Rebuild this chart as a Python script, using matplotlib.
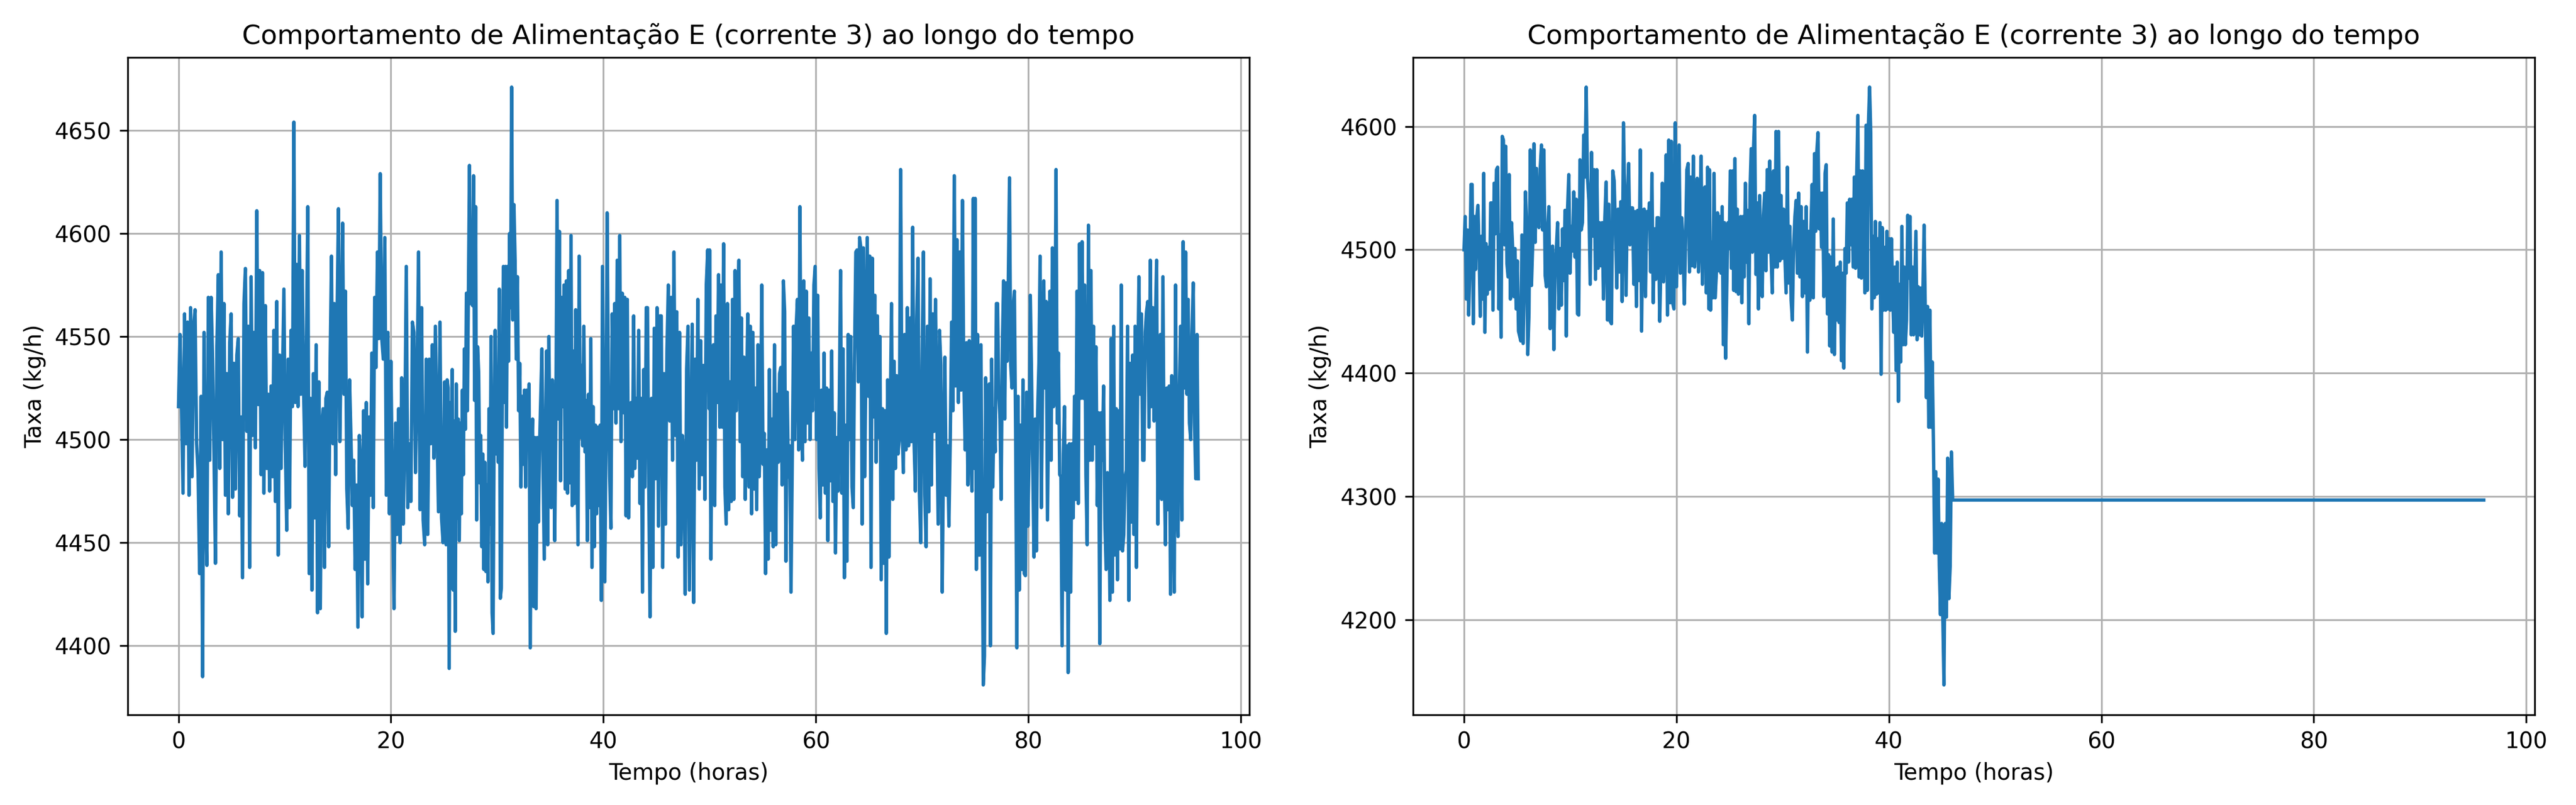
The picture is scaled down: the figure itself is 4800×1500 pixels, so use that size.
import numpy as np
import matplotlib
matplotlib.use("Agg")
import matplotlib.pyplot as plt

# --- left panel: normal operation in four blocks ---
taxa_a1 = [4516, 4551, 4516, 4474, 4561, 4498, 4557, 4473, 4564, 4482, 4555, 4563, 4498, 4484,
           4435, 4521, 4385, 4552, 4470, 4439, 4569, 4490, 4569, 4539, 4491, 4440, 4545, 4580,
           4486, 4591, 4500, 4566, 4473, 4532, 4464, 4547, 4561, 4472, 4537, 4476, 4541, 4549,
           4463, 4511, 4433, 4566, 4583, 4504, 4555, 4438, 4579, 4502, 4552, 4496, 4611, 4517,
           4582, 4483, 4581, 4474, 4565, 4486, 4522, 4475, 4526, 4482, 4553, 4470, 4567, 4444,
           4541, 4486, 4529, 4573, 4498, 4456, 4539, 4467, 4553, 4516, 4654, 4518, 4585, 4516,
           4599, 4522, 4582, 4524, 4487, 4544, 4613, 4435, 4520, 4427, 4532, 4462, 4546, 4416,
           4528, 4418, 4507, 4515, 4438, 4520, 4523, 4448, 4536, 4589, 4498, 4566, 4483, 4558,
           4612, 4499, 4545, 4605, 4522, 4572, 4476, 4457, 4529, 4501, 4468, 4490, 4437, 4478,
           4409, 4502, 4485, 4414, 4514, 4442, 4518, 4430, 4511, 4473, 4542, 4467, 4569, 4535,
           4591, 4549, 4629, 4549, 4539, 4598, 4473, 4552, 4464, 4538, 4472, 4418, 4508, 4454,
           4515, 4450, 4530, 4459, 4499, 4584, 4467, 4498, 4470, 4557, 4552, 4484, 4523, 4591,
           4466, 4564, 4461, 4449, 4539, 4454, 4539, 4498, 4546, 4491, 4555, 4510, 4465, 4557,
           4462, 4450, 4528]
taxa_a2 = [4482, 4449, 4529, 4525, 4389, 4518, 4428, 4534, 4427, 4509, 4407, 4527, 4462, 4510,
           4451, 4508, 4464, 4524, 4483, 4544, 4505, 4571, 4514, 4574, 4633, 4566, 4589, 4565,
           4628, 4519, 4613, 4461, 4545, 4532, 4479, 4502, 4448, 4493, 4437, 4489, 4436, 4478,
           4431, 4515, 4459, 4550, 4416, 4406, 4505, 4553, 4493, 4533, 4489, 4573, 4423, 4428,
           4528, 4584, 4518, 4584, 4506, 4584, 4538, 4600, 4564, 4671, 4558, 4614, 4587, 4539,
           4579, 4514, 4537, 4477, 4521, 4488, 4524, 4477, 4524, 4499, 4527, 4399, 4489, 4510,
           4419, 4501, 4418, 4501, 4460, 4497, 4520, 4544, 4485, 4442, 4497, 4543, 4449, 4550,
           4488, 4467, 4529, 4510, 4451, 4511, 4616, 4510, 4601, 4480, 4569, 4516, 4575, 4476,
           4577, 4474, 4582, 4479, 4599, 4468, 4543, 4469, 4563, 4499, 4449, 4589, 4501, 4536,
           4497, 4555, 4494, 4519, 4451, 4522, 4467, 4549, 4438, 4516, 4448, 4507, 4464, 4506,
           4468, 4507, 4422, 4584, 4507, 4431, 4497, 4610, 4526, 4482, 4457, 4561, 4515, 4566,
           4508, 4587, 4515, 4599, 4499, 4571, 4513, 4569, 4463, 4568, 4462, 4513, 4518, 4482,
           4560, 4486, 4520, 4491, 4553, 4469, 4520, 4426, 4534, 4477, 4564, 4564, 4475, 4414,
           4520, 4438, 4554, 4481, 4564, 4458, 4560, 4560, 4438, 4532, 4459, 4543, 4575, 4509,
           4569, 4490, 4591, 4502, 4562, 4443, 4552, 4449, 4502, 4492, 4425, 4534, 4555, 4427,
           4491, 4556, 4421, 4539, 4490, 4568, 4476, 4548, 4483, 4536, 4471, 4575, 4592, 4515]
taxa_a3 = [4592, 4442, 4526, 4546, 4468, 4560, 4518, 4580, 4506, 4575, 4506, 4595, 4477, 4459,
           4566, 4466, 4528, 4470, 4568, 4471, 4582, 4514, 4560, 4587, 4499, 4559, 4482, 4540,
           4471, 4520, 4561, 4477, 4555, 4464, 4552, 4476, 4525, 4466, 4546, 4482, 4504, 4575,
           4488, 4503, 4435, 4495, 4442, 4534, 4456, 4510, 4448, 4546, 4449, 4522, 4489, 4532,
           4535, 4478, 4577, 4562, 4441, 4523, 4482, 4497, 4426, 4491, 4555, 4500, 4554, 4568,
           4495, 4613, 4512, 4490, 4577, 4499, 4572, 4508, 4559, 4500, 4542, 4514, 4575, 4584,
           4500, 4570, 4486, 4462, 4524, 4478, 4542, 4474, 4525, 4451, 4524, 4480, 4543, 4470,
           4513, 4445, 4501, 4475, 4520, 4582, 4474, 4544, 4433, 4507, 4441, 4551, 4500, 4550,
           4477, 4467, 4540, 4591, 4592, 4528, 4598, 4593, 4459, 4593, 4482, 4536, 4598, 4521,
           4589, 4438, 4588, 4511, 4570, 4489, 4560, 4501, 4550, 4432, 4515, 4440, 4514, 4406,
           4529, 4443, 4509, 4566, 4471, 4538, 4486, 4531, 4493, 4500, 4631, 4512, 4484, 4551,
           4495, 4564, 4497, 4559, 4499, 4603, 4499, 4475, 4559, 4588, 4474, 4450, 4535, 4591,
           4473, 4448, 4555, 4465, 4578, 4478, 4561, 4504, 4568, 4512, 4459, 4553, 4536, 4426,
           4493, 4540, 4473, 4497, 4458, 4499, 4557, 4514, 4628, 4526, 4597, 4518, 4591, 4524,
           4616, 4531, 4495, 4547, 4478, 4548, 4498, 4475, 4617, 4486]
taxa_a4 = [4617, 4437, 4551, 4444, 4444, 4546, 4465, 4381, 4395, 4530, 4465, 4516, 4527, 4400,
           4539, 4477, 4515, 4494, 4566, 4566, 4522, 4510, 4471, 4545, 4577, 4510, 4576, 4538,
           4577, 4627, 4536, 4525, 4564, 4572, 4503, 4399, 4521, 4427, 4507, 4437, 4529, 4435,
           4434, 4523, 4458, 4493, 4570, 4532, 4485, 4443, 4510, 4446, 4514, 4537, 4589, 4467,
           4526, 4577, 4525, 4567, 4461, 4516, 4572, 4490, 4593, 4516, 4535, 4631, 4508, 4542,
           4483, 4482, 4400, 4493, 4516, 4427, 4497, 4387, 4498, 4426, 4498, 4462, 4521, 4471,
           4572, 4469, 4595, 4520, 4596, 4520, 4575, 4483, 4449, 4604, 4490, 4582, 4490, 4555,
           4498, 4545, 4468, 4513, 4401, 4513, 4490, 4526, 4461, 4437, 4484, 4478, 4422, 4549,
           4426, 4555, 4444, 4515, 4432, 4514, 4447, 4575, 4446, 4454, 4482, 4485, 4555, 4422,
           4537, 4460, 4541, 4454, 4555, 4438, 4529, 4579, 4522, 4561, 4490, 4490, 4552, 4562,
           4567, 4506, 4587, 4516, 4564, 4509, 4555, 4587, 4459, 4532, 4551, 4471, 4579, 4487,
           4449, 4525, 4466, 4526, 4425, 4531, 4477, 4426, 4575, 4474, 4453, 4522, 4555, 4461,
           4596, 4525, 4591, 4522, 4568, 4508, 4500, 4551, 4576, 4508, 4481, 4551, 4481]
# hours spanned by each block, plus the hour at which a few clear peaks sit
horas_a = [(0.0, 25.05), (25.1, 49.95), (50.0, 74.95), (75.0, 96.0)]
picos_a = [[(4385, 2.27), (4654, 10.86), (4629, 18.99)],
           [(4633, 27.39), (4671, 31.36), (4610, 40.35), (4414, 44.39)],
           [(4613, 58.50), (4406, 66.63), (4631, 67.98), (4628, 73.03)],
           [(4381, 75.76), (4627, 78.23), (4631, 82.61), (4387, 83.75), (4604, 85.66)]]

# --- right panel: fault appears, the stream collapses near 45 h and then stays flat ---
taxa_b1 = [4500, 4527, 4460, 4516, 4447, 4485, 4553, 4553, 4440, 4527, 4484, 4526, 4536, 4500,
           4446, 4511, 4460, 4562, 4433, 4505, 4464, 4502, 4468, 4538, 4538, 4451, 4554, 4513,
           4565, 4567, 4452, 4512, 4429, 4592, 4589, 4504, 4584, 4489, 4478, 4561, 4460, 4522,
           4501, 4462, 4501, 4452, 4491, 4434, 4430, 4426, 4512, 4424, 4471, 4547, 4522, 4415,
           4448, 4581, 4471, 4505, 4586, 4506, 4566, 4522, 4518, 4566, 4585, 4516, 4581, 4479,
           4470, 4517, 4535, 4436, 4502, 4503, 4419, 4484, 4501, 4522, 4452, 4501, 4455, 4517,
           4475, 4532, 4430, 4533, 4561, 4481, 4519, 4499, 4547, 4494, 4541, 4448, 4447, 4573,
           4516, 4522, 4593, 4559, 4632, 4558, 4540, 4472, 4579, 4511, 4565, 4476, 4565, 4485,
           4522, 4487, 4522, 4460, 4526, 4555, 4443, 4537, 4442, 4440, 4564, 4556, 4517, 4469,
           4533, 4482, 4539, 4458, 4603, 4539, 4463, 4541, 4570, 4504, 4534, 4534, 4472, 4531,
           4454, 4532, 4475, 4581, 4434, 4532, 4533, 4462, 4531, 4519, 4538, 4482, 4562, 4457,
           4517, 4476, 4526, 4526, 4442, 4492, 4554, 4474, 4517, 4577, 4447, 4589, 4457, 4588,
           4457, 4452, 4603, 4470, 4525, 4585, 4481, 4526, 4507, 4456, 4507, 4565, 4570, 4482,
           4559, 4487, 4576, 4486, 4505, 4558, 4482, 4516, 4576, 4472, 4548, 4551, 4465, 4567,
           4452]
taxa_b2 = [4565, 4451, 4506, 4461, 4562, 4461, 4481, 4530, 4483, 4527, 4481, 4535, 4423, 4522,
           4412, 4470, 4522, 4501, 4564, 4485, 4564, 4467, 4574, 4466, 4533, 4464, 4525, 4527,
           4457, 4527, 4478, 4554, 4490, 4532, 4440, 4548, 4582, 4498, 4582, 4609, 4480, 4538,
           4452, 4544, 4481, 4462, 4528, 4546, 4483, 4565, 4498, 4572, 4498, 4465, 4564, 4486,
           4596, 4486, 4596, 4491, 4544, 4493, 4533, 4496, 4465, 4567, 4473, 4519, 4459, 4443,
           4502, 4527, 4540, 4481, 4546, 4478, 4535, 4462, 4523, 4465, 4535, 4417, 4515, 4459,
           4519, 4553, 4461, 4578, 4515, 4580, 4595, 4517, 4546, 4502, 4546, 4462, 4562, 4569,
           4448, 4496, 4422, 4494, 4417, 4525, 4415, 4485, 4443, 4486, 4441, 4490, 4410, 4481,
           4404, 4501, 4481, 4538, 4490, 4541, 4504, 4541, 4486, 4559, 4485, 4561, 4609, 4478,
           4564, 4477, 4564, 4543, 4465, 4601, 4467, 4602, 4632, 4595, 4452, 4511, 4461, 4523,
           4464, 4509, 4465, 4522, 4399, 4518, 4451, 4502, 4451, 4515, 4452, 4509, 4451, 4509,
           4465, 4433, 4486, 4402, 4490, 4377, 4472, 4409, 4519, 4423, 4486, 4423, 4443, 4528,
           4477, 4527, 4431, 4486, 4431, 4472, 4515, 4427, 4470, 4431, 4469, 4430, 4467, 4520,
           4454, 4380, 4454, 4356, 4451, 4356, 4409, 4344, 4254, 4320, 4254, 4314, 4244, 4204,
           4278, 4204, 4147, 4278, 4202, 4331, 4217, 4243, 4336, 4297]
horas_b = [(0.0, 23.05), (23.1, 46.0)]
picos_b = [[(4415, 6.00), (4632, 11.50), (4603, 15.01)],
           [(4609, 27.36), (4417, 32.33), (4632, 38.18), (4377, 40.89), (4147, 45.18)]]
# after the collapse the rate is held constant until the end of the run
taxa_b_final = 4297
hora_final = 96.0


def montar(blocos, horas, picos):
    # time of each reading: evenly spread between the block ends and the marked peaks
    t, v = [], []
    for vals, (h0, h1), pk in zip(blocos, horas, picos):
        n = len(vals)
        idx = [0] + [vals.index(p) for p, _ in pk] + [n - 1]
        hrs = [h0] + [h for _, h in pk] + [h1]
        t.append(np.interp(np.arange(n), idx, hrs))
        v.append(np.array(vals, dtype=float))
    return np.concatenate(t), np.concatenate(v)


t_a, y_a = montar([taxa_a1, taxa_a2, taxa_a3, taxa_a4], horas_a, picos_a)
t_b, y_b = montar([taxa_b1, taxa_b2], horas_b, picos_b)
t_b = np.append(t_b, hora_final)
y_b = np.append(y_b, taxa_b_final)

titulo = "Comportamento de Alimentação E (corrente 3) ao longo do tempo"

fig, axs = plt.subplots(1, 2, figsize=(16, 5), dpi=300)
for ax, t, y in zip(axs, [t_a, t_b], [y_a, y_b]):
    ax.plot(t, y, color="#1f77b4", linewidth=1.5)
    ax.set_title(titulo)
    ax.set_xlabel("Tempo (horas)")
    ax.set_ylabel("Taxa (kg/h)")
    ax.set_xticks([0, 20, 40, 60, 80, 100])
    ax.grid(True)

plt.subplots_adjust(left=0.0495, right=0.984, top=0.929, bottom=0.112, wspace=0.146)
plt.savefig("out.png", dpi=300)
